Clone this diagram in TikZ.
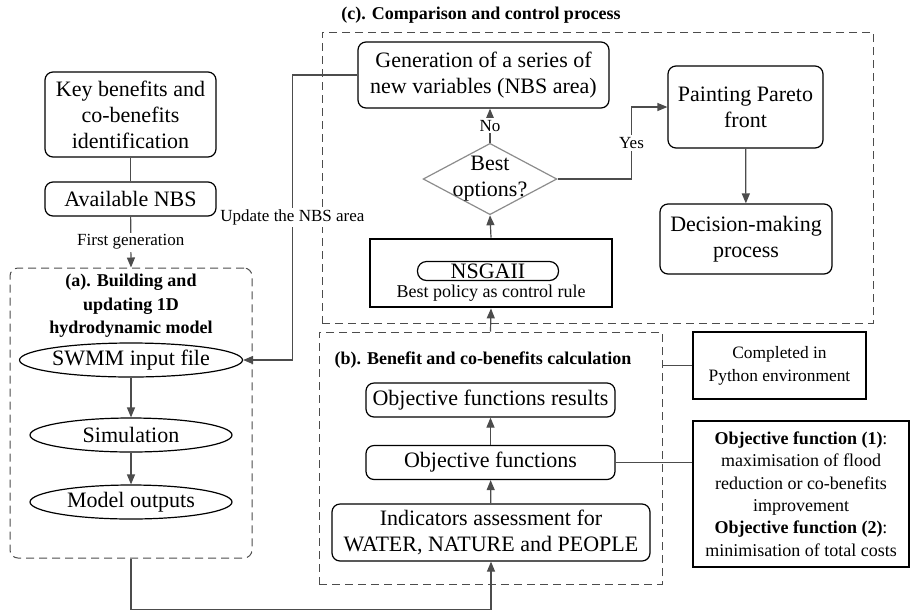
\documentclass[tikz,border=0pt]{standalone}
\usepackage{fontspec}
\setmainfont{Liberation Serif}
\usetikzlibrary{arrows.meta,positioning,shapes.geometric}

\begin{document}
\begin{tikzpicture}[x=0.5pt,y=-0.5pt, every node/.style={font=\fontsize{11}{13}\selectfont},
  box/.style={draw,rounded corners=4pt,line width=0.6pt,align=center,inner sep=1pt},
  oval/.style={draw,ellipse,line width=0.6pt,minimum width=101pt,minimum height=17pt,inner sep=0pt},
  frame/.style={draw=black!70,dash pattern=on 4pt off 2.5pt,line width=0.5pt,inner sep=0pt},
  note/.style={draw,line width=0.6pt,align=center,font=\fontsize{9}{11.2}\selectfont},
  ttl/.style={align=center,font=\fontsize{9}{11.7}\selectfont\bfseries},
  lbl/.style={fill=white,inner sep=1pt,font=\fontsize{8.5}{10}\selectfont},
  decision/.style={diamond,draw=black!45,line width=0.6pt,aspect=1.875,inner sep=-2.2pt,align=center},
  arr/.style={draw=black!70,line width=0.6pt,-{Triangle[length=5pt,width=4pt]}},
  link/.style={draw=black!70,line width=0.6pt}]
  \useasboundingbox (0,0) rectangle (910,612);
  % dashed frames
  \node[frame,rounded corners=4pt,minimum width=121pt,minimum height=145pt] (fa) at (131,413) {};
  \node[frame,minimum width=275.5pt,minimum height=145.5pt] (fc) at (597.5,177.5) {};
  \node[frame,minimum width=171.5pt,minimum height=126pt] (fb) at (490.5,458) {};
  \node[ttl] (ta) at (131,306) {(a). Building and\\updating 1D\\hydrodynamic model};
  \node[ttl] (tc) at (481,15) {(c). Comparison and control process};
  \node[ttl] (tb) at (483,360) {(b). Benefit and co-benefits calculation};
  % left column
  \node[box,minimum width=85.5pt,minimum height=42.5pt] (key) at (130.5,114.5) {Key benefits and\\co-benefits\\identification};
  \node[box,minimum width=85.5pt,minimum height=17pt] (nbs) at (130.5,199) {Available NBS};
  \node[oval] (swmm) at (131,360) {SWMM input file};
  \node[oval] (sim) at (131,435) {Simulation};
  \node[oval] (out) at (131,502) {Model outputs};
  % control process
  \node[box,minimum width=125.5pt,minimum height=33pt] (gen) at (483.5,75) {Generation of a series of\\new variables (NBS area)};
  \node[decision] (best) at (490,179) {Best\\options?};
  \node[draw,line width=1.4pt,minimum width=121pt,minimum height=34pt] (nsga) at (491,273) {};
  \node[draw,rounded corners=4.5pt,line width=0.6pt,minimum width=70.5pt,minimum height=9.5pt,inner sep=0pt] (pill) at (488,271) {NSGAII};
  \node[font=\fontsize{9}{11}\selectfont] (rule) at (491,293) {Best policy as control rule};
  \node[box,minimum width=77.5pt,minimum height=41pt] (paint) at (745.5,107) {Painting Pareto\\front};
  \node[box,minimum width=86pt,minimum height=35pt] (dec) at (746,239) {Decision-making\\process};
  % benefit calculation
  \node[box,minimum width=124.5pt,minimum height=17pt] (ofr) at (490.5,400) {Objective functions results};
  \node[box,minimum width=124.5pt,minimum height=17pt] (of) at (490.5,462.5) {Objective functions};
  \node[box,minimum width=159pt,minimum height=28.5pt] (ind) at (491,532.5) {Indicators assessment for\\WATER, NATURE and PEOPLE};
  \node[note,font=\fontsize{8.7}{11.5}\selectfont,minimum width=86.5pt,minimum height=33.5pt] (py) at (779.5,365.5) {Completed in\\Python environment};
  \node[note,minimum width=108pt,minimum height=73pt,inner sep=1pt] (obj) at (801,494) {\textbf{Objective function (1)}:\\maximisation of flood\\reduction or co-benefits\\improvement\\\textbf{Objective function (2)}:\\minimisation of total costs};
  % connectors
  \draw[link] (key) -- (nbs);
  \draw[arr] (nbs) -- (fa.north) node[lbl,midway] {First generation};
  \draw[arr] (swmm) -- (sim); \draw[arr] (sim) -- (out);
  \draw[arr] (gen.west) -- ++(-65,0) |- (swmm.east) node[lbl,pos=0.25] {Update the NBS area};
  \draw[arr] (fa.south) -- ++(0,51) -| (ind.south);
  \draw[arr] (ind) -- (of); \draw[arr] (of) -- (ofr);
  \draw[arr] (fb.north) -- (nsga.south);
  \draw[arr] (nsga.north) -- (best.south);
  \draw[arr] (best.north) -- (best.north |- gen.south) node[lbl,midway] {No};
  \draw[arr] (best.east) -- ++(74,0) |- (paint.west) node[lbl,pos=0.25] {Yes};
  \draw[arr] (paint) -- (dec);
  \draw[link] (py.west) -- (py.west -| fb.east);
  \draw[link] (of.east) -- (of.east -| obj.west);
\end{tikzpicture}
\end{document}
